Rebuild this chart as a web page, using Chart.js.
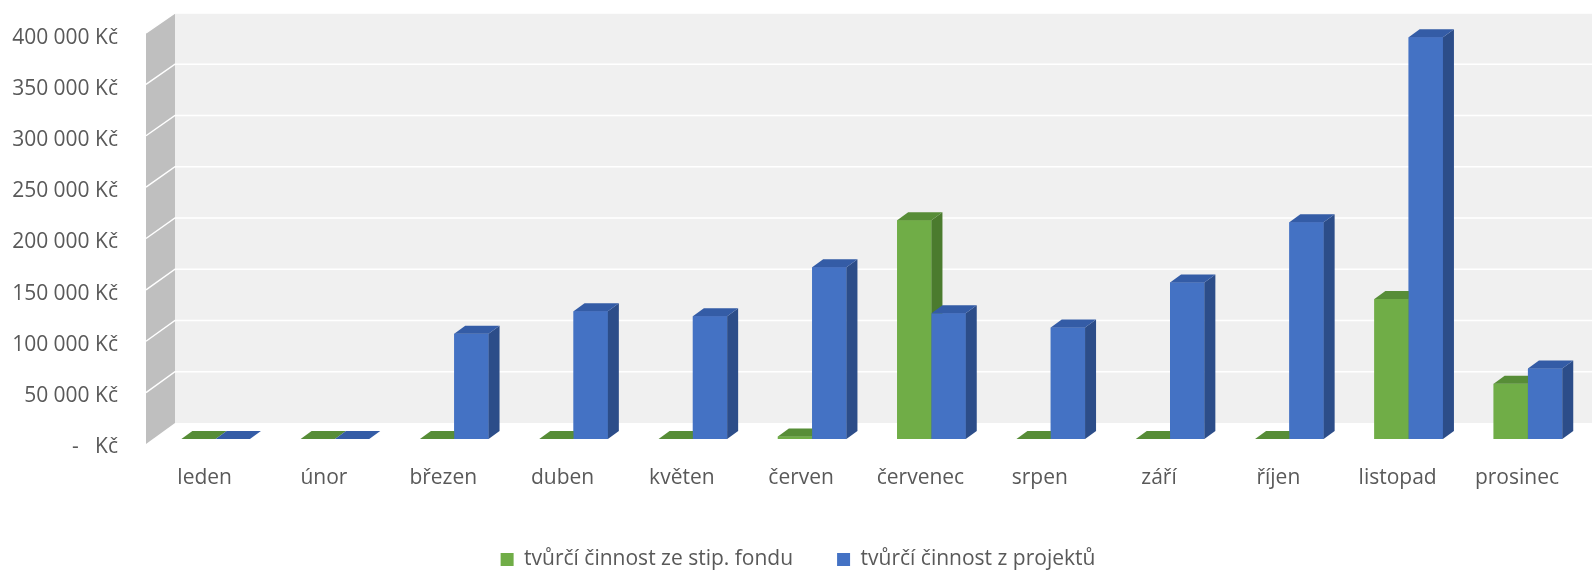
<!DOCTYPE html>
<html>
<head>
<meta charset="utf-8">
<script src="https://cdn.jsdelivr.net/npm/chart.js@4/dist/chart.umd.min.js"></script>
<style>
  html, body { margin: 0; padding: 0; background: #ffffff; overflow: hidden; width: 1592px; height: 570px; }
  #wrap { width: 1596px; height: 580px; position: relative; }
</style>
</head>
<body>
<div id="wrap"><canvas id="c"></canvas></div>
<script>
// ---- data ----
const categories = ["leden", "únor", "březen", "duben", "květen", "červen", "červenec", "srpen", "září", "říjen", "listopad", "prosinec"];
const seriesNames = ["tvůrčí činnost ze stip. fondu", "tvůrčí činnost z projektů"];
const stipFond = [0, 0, 0, 0, 0, 2500, 214000, 0, 0, 0, 137000, 54000];
const projekty = [0, 0, 103000, 125000, 120000, 168000, 123000, 109000, 153000, 212000, 393000, 69000];
const yTicks = [0, 50000, 100000, 150000, 200000, 250000, 300000, 350000, 400000];

// ---- style ----
const TEXT = '#595959';
const FONT = '"Open Sans", "Noto Sans", sans-serif';
const DX = 11, DY = 8;          // bar depth
const WALL_DX = 29;             // wall depth offset (x)
const BACK_OFF = -17, FRONT_OFF = 5; // wall y offsets relative to bar plane

function fmt(v) {
  if (v === 0) return '-   Kč';
  return String(v).replace(/\B(?=(\d{3})+(?!\d))/g, ' ') + ' Kč';
}

function poly(ctx, pts, color) {
  ctx.beginPath();
  ctx.moveTo(pts[0][0], pts[0][1]);
  for (let i = 1; i < pts.length; i++) ctx.lineTo(pts[i][0], pts[i][1]);
  ctx.closePath();
  ctx.fillStyle = color;
  ctx.fill();
}

function faces(ctx, bar, ds) {
  const p = bar.getProps(['x', 'y', 'base', 'width'], true);
  const l = p.x - p.width / 2, r = p.x + p.width / 2;
  poly(ctx, [[r, p.y], [r + DX, p.y - DY], [r + DX, p.base - DY], [r, p.base]], ds.sideColor);
  poly(ctx, [[l, p.y], [r, p.y], [r + DX, p.y - DY], [l + DX, p.y - DY]], ds.topColor);
}

const threeD = {
  id: 'threeD',
  beforeDatasetsDraw(chart) {
    const ctx = chart.ctx, a = chart.chartArea, ys = chart.scales.y;
    const frontX = a.left - 10, backX = frontX + WALL_DX;
    const y0 = ys.getPixelForValue(0), yTop = ys.getPixelForValue(ys.max);
    ctx.save();
    poly(ctx, [[backX, yTop + BACK_OFF], [chart.width, yTop + BACK_OFF], [chart.width, y0 + BACK_OFF + 1], [backX, y0 + BACK_OFF + 1]], '#f0f0f0');
    poly(ctx, [[frontX, yTop + FRONT_OFF - 2], [backX, yTop + BACK_OFF], [backX, y0 + BACK_OFF + 1], [frontX, y0 + FRONT_OFF]], '#bfbfbf');
    ctx.strokeStyle = '#ffffff';
    ctx.lineWidth = 1.5;
    yTicks.forEach(v => {
      if (v === 0) return;
      const p = ys.getPixelForValue(v);
      const f = v / ys.max;
      ctx.beginPath();
      ctx.moveTo(frontX, p + FRONT_OFF - 2 * f);
      ctx.lineTo(backX, p + BACK_OFF + 1 - f);
      ctx.lineTo(chart.width, p + BACK_OFF + 1 - f);
      ctx.stroke();
    });
    ctx.restore();
  },
  afterDatasetsDraw(chart) {
    const ctx = chart.ctx;
    const m0 = chart.getDatasetMeta(0), m1 = chart.getDatasetMeta(1);
    const d0 = chart.data.datasets[0], d1 = chart.data.datasets[1];
    ctx.save();
    for (let i = 0; i < m0.data.length; i++) {
      m0.data[i].draw(ctx);
      faces(ctx, m0.data[i], d0);
      m1.data[i].draw(ctx);
      faces(ctx, m1.data[i], d1);
    }
    ctx.restore();
  }
};

new Chart(document.getElementById('c'), {
  type: 'bar',
  data: {
    labels: categories,
    datasets: [
      { label: seriesNames[0], data: stipFond, backgroundColor: '#70ad47', sideColor: '#4b7b2e', topColor: '#578d37',
        categoryPercentage: 0.575, barPercentage: 1.0, borderWidth: 0 },
      { label: seriesNames[1], data: projekty, backgroundColor: '#4472c4', sideColor: '#2c4d89', topColor: '#345ca6',
        categoryPercentage: 0.575, barPercentage: 1.0, borderWidth: 0 }
    ]
  },
  options: {
    responsive: true,
    maintainAspectRatio: false,
    animation: false,
    layout: { padding: { left: 0, right: 0, top: 30, bottom: 0 } },
    plugins: {
      legend: {
        position: 'bottom',
        labels: { color: TEXT, font: { family: FONT, size: 21 }, boxWidth: 13, boxHeight: 13, padding: 44 }
      },
      tooltip: { enabled: false }
    },
    scales: {
      x: {
        grid: { display: false, drawTicks: false },
        border: { display: false },
        ticks: { color: TEXT, font: { family: FONT, size: 21 }, padding: 26, labelOffset: -11, autoSkip: false, maxRotation: 0 },
        afterFit: (s) => { s.height = 66; }
      },
      y: {
        min: 0, max: 400000,
        grid: { display: false, drawTicks: false },
        border: { display: false },
        ticks: { stepSize: 50000, color: TEXT, font: { family: FONT, size: 21 }, padding: 38, labelOffset: 8, callback: (v) => fmt(v) },
        afterFit: (s) => { s.width = 156; s.paddingTop = 0; s.paddingBottom = 0; }
      }
    }
  },
  plugins: [threeD]
});
</script>
</body>
</html>
